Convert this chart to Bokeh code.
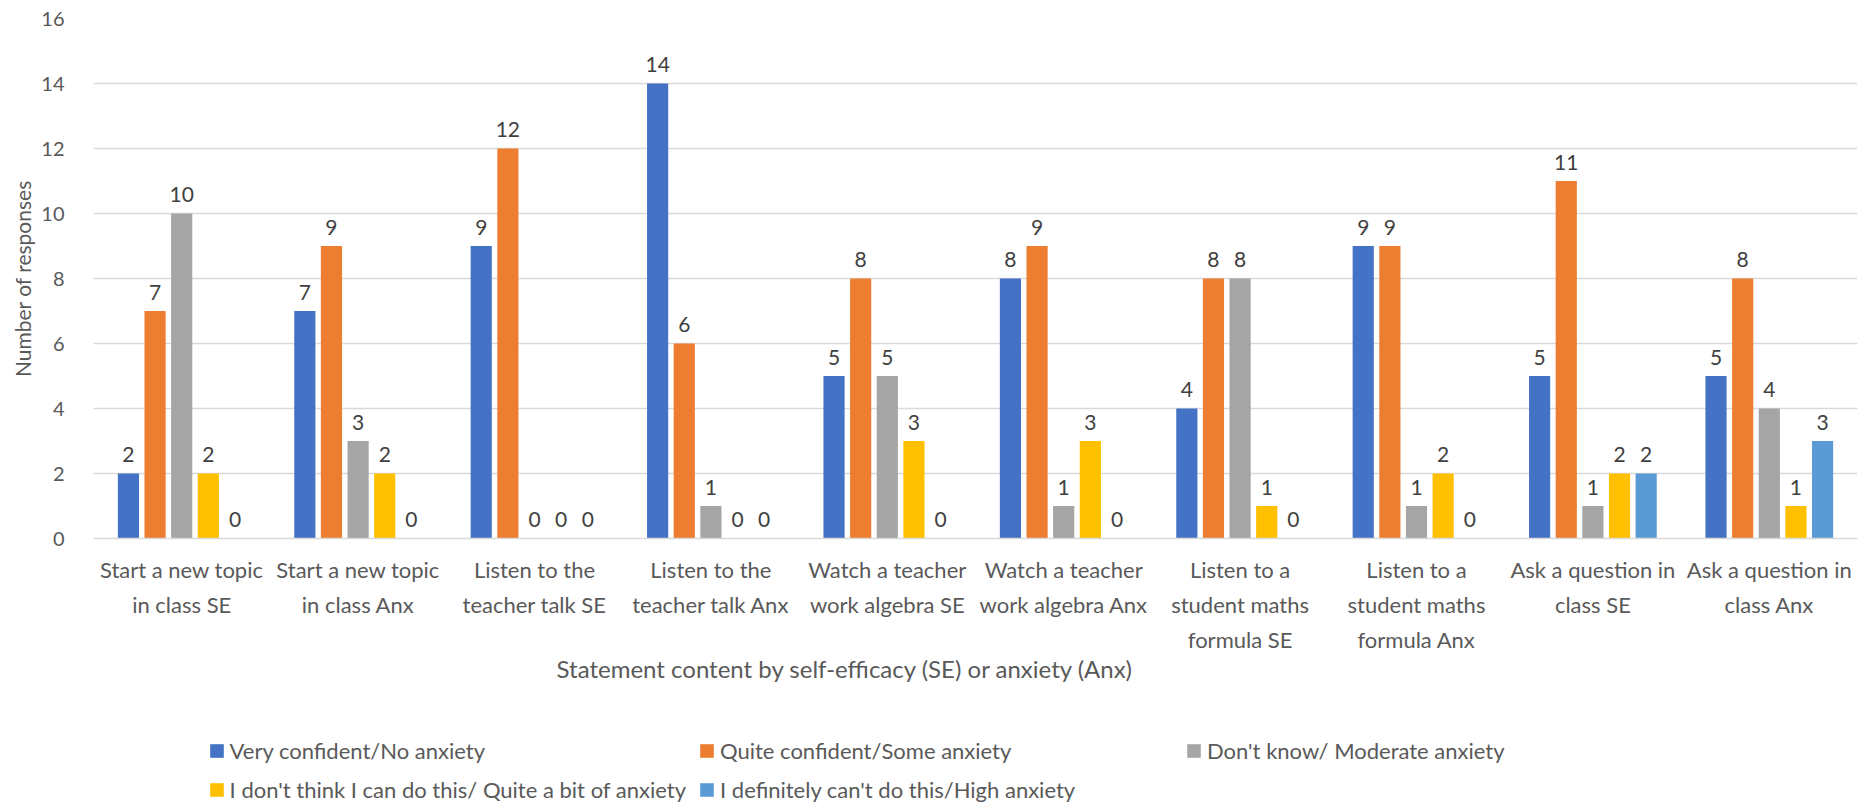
import numpy as np
from bokeh.plotting import figure
from bokeh.models import ColumnDataSource, Legend, LegendItem, Label, Range1d, FixedTicker
from bokeh.layouts import column
from bokeh.transform import dodge
from bokeh.embed import file_html
from bokeh.resources import INLINE
from bokeh.core.properties import value

categories = [
    "Start a new topic\nin class SE",
    "Start a new topic\nin class Anx",
    "Listen to the\nteacher talk SE",
    "Listen to the\nteacher talk Anx",
    "Watch a teacher\nwork algebra SE",
    "Watch a teacher\nwork algebra Anx",
    "Listen to a\nstudent maths\nformula SE",
    "Listen to a\nstudent maths\nformula Anx",
    "Ask a question in\nclass SE",
    "Ask a question in\nclass Anx",
]
series_names = [
    "Very confident/No anxiety",
    "Quite confident/Some anxiety",
    "Don't know/ Moderate anxiety",
    "I don't think I can do this/ Quite a bit of anxiety",
    "I definitely can't do this/High anxiety",
]
very_confident = [2, 7, 9, 14, 5, 8, 4, 9, 5, 5]
quite_confident = [7, 9, 12, 6, 8, 9, 8, 9, 11, 8]
dont_know = [10, 3, 0, 1, 5, 1, 8, 1, 1, 4]
dont_think = [2, 2, 0, 0, 3, 3, 1, 2, 2, 1]
definitely_cant = [0, 0, 0, 0, 0, 0, 0, 0, 2, 3]
colors = ["#4472C4", "#ED7D31", "#A5A5A5", "#FFC000", "#5B9BD5"]
y_ticks = [0, 2, 4, 6, 8, 10, 12, 14, 16]
x_title = "Statement  content by self-efficacy (SE) or anxiety (Anx)"
y_title = "Number of responses"

series = [very_confident, quite_confident, dont_know, dont_think, definitely_cant]
keys = ["s0", "s1", "s2", "s3", "s4"]
data = {"cat": categories}
for k, s in zip(keys, series):
    data[k] = s
    data[k + "_lbl"] = [str(v) for v in s]
source = ColumnDataSource(data)

FONT = "Lato"
TXT = "#595959"
W = 1865
H1 = 655
H2 = 809 - H1
LEFT = 93
RIGHT = 8

p = figure(
    x_range=categories, y_range=Range1d(0, 16),
    width=W, height=H1,
    output_backend="svg", toolbar_location=None,
    min_border_left=LEFT, min_border_right=RIGHT, min_border_top=18, min_border_bottom=H1 - 552,
)
p.outline_line_color = None
p.background_fill_color = "white"
p.border_fill_color = "white"

step = 0.151
width = 0.12
offsets = [-2 * step, -step, 0, step, 2 * step]
for k, off, c in zip(keys, offsets, colors):
    p.vbar(x=dodge("cat", off, range=p.x_range), top=k, width=width,
           source=source, fill_color=c, line_color=None)
    p.text(x=dodge("cat", off, range=p.x_range), y=k, text=k + "_lbl", source=source,
           text_align="center", text_baseline="alphabetic", y_offset=-19,
           text_font=value(FONT), text_font_size="21px", text_color="#404040")

p.xgrid.grid_line_color = None
p.ygrid.grid_line_color = "#d9d9d9"
p.ygrid.grid_line_width = 1.5

xa = p.xaxis[0]
xa.axis_line_color = "#d9d9d9"
xa.axis_line_width = 1.5
xa.major_tick_line_color = None
xa.minor_tick_line_color = None
xa.major_label_text_font = FONT
xa.major_label_text_font_size = "22px"
xa.major_label_text_color = TXT
xa.major_label_standoff = 11
xa.major_label_text_line_height = 1.3
xa.major_label_orientation = "horizontal"

ya = p.yaxis[0]
ya.ticker = FixedTicker(ticks=y_ticks)
ya.axis_line_color = None
ya.major_tick_line_color = None
ya.minor_tick_line_color = None
ya.major_label_text_font = FONT
ya.major_label_text_font_size = "20px"
ya.major_label_text_color = TXT
ya.major_label_standoff = 23
ya.axis_label = y_title
ya.axis_label_text_font = FONT
ya.axis_label_text_font_size = "21px"
ya.axis_label_text_font_style = "normal"
ya.axis_label_text_color = TXT
ya.axis_label_standoff = 3

# lower panel: axis title and legend (x data units == page pixels)
q = figure(
    width=W, height=H2, x_range=Range1d(LEFT, W - RIGHT), y_range=Range1d(H2, 0),
    output_backend="svg", toolbar_location=None,
    x_axis_type=None, y_axis_type=None,
    min_border=0, min_border_left=LEFT, min_border_right=RIGHT, min_border_top=0, min_border_bottom=0,
)
q.outline_line_color = None
q.grid.visible = False
q.background_fill_color = "white"
q.border_fill_color = "white"

q.add_layout(Label(x=848, y=668 - H1, text=x_title, text_align="center", text_baseline="middle",
                   text_font=FONT, text_font_size="24px", text_color=TXT))

# legend swatch renderers (one undrawn NaN point each, so the legend can paint the swatch)
nan = np.array([np.nan])
swatches = [q.vbar(x=nan, top=nan, width=1, fill_color=c, line_color=None) for c in colors]
legend = Legend(
    items=[LegendItem(label=n, renderers=[r]) for n, r in zip(series_names, swatches)],
    orientation="horizontal", ncols=3, location=(207.6 - LEFT, 6),
    glyph_width=17, glyph_height=17, label_standoff=5, label_width=453, label_height=26,
    spacing=12, padding=0, margin=0,
    border_line_color=None, background_fill_alpha=0,
    label_text_font=FONT, label_text_font_size="22px", label_text_color=TXT,
)
q.add_layout(legend)

layout = column(p, q, spacing=0)
open("out.html", "w").write(file_html(layout, INLINE))
